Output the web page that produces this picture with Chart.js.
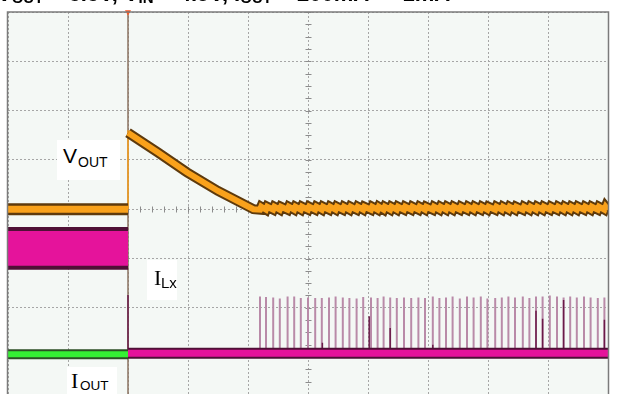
<!DOCTYPE html>
<html lang="en">
<head>
<meta charset="UTF-8">
<title>VOUT / ILx / IOUT load step</title>
<script src="https://cdn.jsdelivr.net/npm/chart.js@4.4.0/dist/chart.umd.min.js"></script>
<style>
  html, body { margin: 0; padding: 0; width: 622px; height: 394px; overflow: hidden; background: #fff; }
  #wrap { position: absolute; left: 0; top: 0; width: 622px; height: 420px; }
  .title { position: absolute; left: -3px; top: -17px; font: bold 22px Arial, "Liberation Sans", sans-serif; line-height: 22px; white-space: nowrap; color: #000; }
  .title span { font-size: 15px; position: relative; top: 2px; }
  .box { position: absolute; background: #fff; }
  .t { position: absolute; white-space: nowrap; color: #000; font-family: Arial, "Liberation Sans", sans-serif; }
  .serif { font-family: "Times New Roman", "Liberation Serif", serif; }
</style>
</head>
<body>
<div id="wrap">
  <canvas id="scope" width="622" height="420"></canvas>
</div>

<div class="title">V<span>OUT</span> = 3.3V, V<span>IN</span> = 4.5V, I<span>OUT</span> = 200mA → 1mA</div>

<div class="box" style="left:57px; top:140px; width:63px; height:40px;"></div>
<div class="t" style="left:63px; top:145.2px; font-size:21px; line-height:21px;">V</div>
<div class="t" style="left:78px; top:155.1px; font-size:14px; line-height:14px;">OUT</div>

<div class="box" style="left:147px; top:260px; width:30px; height:40px;"></div>
<div class="t serif" style="left:154px; top:266.6px; font-size:22px; line-height:22px;">I</div>
<div class="t" style="left:161px; top:275.3px; font-size:15px; line-height:15px;">Lx</div>

<div class="box" style="left:67px; top:367px; width:50px; height:30px;"></div>
<div class="t serif" style="left:71px; top:369.6px; font-size:22px; line-height:22px;">I</div>
<div class="t" style="left:80px; top:378.6px; font-size:13.5px; line-height:13.5px;">OUT</div>

<script>
  // scope screen: 10 horizontal divisions (0..10), 8 vertical divisions (-4..4), trigger at div 2

  // V_OUT (orange)
  const voutPreX = [0, 2];
  const voutPreY = [0.0, 0.0];
  const voutSlopeX = [2.0, 2.5, 2.98, 3.5, 4.09];
  const voutSlopeY = [1.55, 1.15, 0.75, 0.37, 0.0];
  const voutRippleLo = -0.01;
  const voutRippleHi = 0.05;

  // I_Lx (magenta)
  const ilxPreX = [0, 2];
  const ilxPreTop = -0.40;
  const ilxPreBottom = -1.19;
  const ilxBaseX = [2, 10];
  const ilxBaseY = -2.92;
  const spikeBase = -2.85;
  const spikeX = [4.20, 4.30, 4.42, 4.53, 4.66, 4.77, 4.88, 5.00, 5.12, 5.23, 5.35, 5.46, 5.58, 5.69, 5.81, 5.92, 6.05,
    6.16, 6.26, 6.37, 6.48, 6.60, 6.72, 6.84, 6.95, 7.08, 7.19, 7.30, 7.41, 7.53, 7.65, 7.76, 7.88, 7.99,
    8.12, 8.23, 8.34, 8.45, 8.58, 8.69, 8.80, 8.91, 9.03, 9.15, 9.26, 9.37, 9.48, 9.60, 9.71, 9.83, 9.94];
  const spikeTop = [-1.77, -1.78, -1.79, -1.81, -1.77, -1.77, -1.80, -1.79, -1.80, -1.80, -1.79, -1.77, -1.79, -1.80, -1.81, -1.78, -1.79,
    -1.80, -1.77, -1.79, -1.80, -1.79, -1.80, -1.79, -1.80, -1.77, -1.80, -1.79, -1.77, -1.81, -1.77, -1.79, -1.77, -1.81,
    -1.80, -1.79, -1.77, -1.79, -1.77, -1.80, -1.77, -1.77, -1.75, -1.77, -1.79, -1.77, -1.79, -1.77, -1.79, -1.80, -1.79];
  const darkSpikeX = [2.0, 5.24, 6.02, 6.37, 7.08, 8.80, 8.91, 9.26, 9.94];
  const darkSpikeTop = [-1.74, -2.71, -2.17, -2.41, -2.75, -2.06, -2.22, -1.84, -2.24];

  // I_OUT (green)
  const ioutPreX = [0, 2];
  const ioutY = -2.94;

  // trigger position and channel markers
  const triggerX = 2;
  const markerX = [10.12, 10.10];
  const markerY = [-3.0, -3.57];

  const pts = (xs, ys) => xs.map((x, i) => ({ x, y: Array.isArray(ys) ? ys[i] : ys }));

  // V_OUT ripple follows the I_Lx pulses: step up at each pulse, then decays
  const voutPost = [];
  spikeX.forEach(sx => {
    voutPost.push({ x: sx, y: voutRippleLo }, { x: sx + 0.02, y: voutRippleHi });
  });
  voutPost.push({ x: 10, y: voutRippleLo });
  const voutMain = pts(voutSlopeX, voutSlopeY).concat(voutPost);

  const spikeSegs = (xs, tops) => {
    const out = [];
    xs.forEach((x, i) => out.push({ x, y: spikeBase }, { x, y: tops[i] }, { x, y: null }));
    return out;
  };

  function line(data, color, width, order, extra) {
    return Object.assign({
      type: 'line', data, borderColor: color, borderWidth: width,
      pointRadius: 0, fill: false, tension: 0, order, spanGaps: false
    }, extra || {});
  }

  const ORANGE = '#f9a11b', ORANGE_DK = '#5e3a0c';
  const MAGENTA = '#e5139b', MAGENTA_DK = '#4f1036';
  const GREEN = '#35f034', GREEN_DK = '#2d4f25';

  const datasets = [
    line([{ x: triggerX, y: -4 }, { x: triggerX, y: 4 }], '#8b7360', 1.5, 95),
    line(spikeSegs(spikeX, spikeTop), '#b98aa8', 2, 90),
    line(spikeSegs(darkSpikeX, darkSpikeTop), '#6a1a48', 1.5, 85),
    // magenta band before trigger
    line(pts(ilxPreX, ilxPreTop), MAGENTA_DK, 4, 80, { fill: '+1', backgroundColor: MAGENTA }),
    line(pts(ilxPreX, ilxPreBottom), MAGENTA_DK, 4, 79),
    line(pts(ilxBaseX, ilxBaseY), MAGENTA_DK, 11, 70),
    line(pts(ilxBaseX, ilxBaseY), MAGENTA, 7, 69),
    line(pts(ioutPreX, ioutY), GREEN_DK, 10, 60),
    line(pts(ioutPreX, ioutY), GREEN, 6, 59),
    line([{ x: triggerX, y: 0 }, { x: triggerX, y: 1.6 }], ORANGE, 1.5, 52),
    line(pts(voutPreX, voutPreY), ORANGE_DK, 12, 50),
    line(pts(voutPreX, voutPreY), ORANGE, 7, 49),
    line(voutMain, ORANGE_DK, 10, 48),
    line(voutMain, ORANGE, 6, 47),
    line([{ x: triggerX, y: 4 }], '#ff531c', 0, 10, { showLine: false, pointRadius: 3.5, pointStyle: 'triangle', rotation: 180, pointBackgroundColor: '#ff531c', pointBorderWidth: 0, clip: false }),
    line([{ x: markerX[0], y: markerY[0] }], MAGENTA, 0, 10, { showLine: false, pointRadius: 3.5, pointStyle: 'triangle', rotation: -90, pointBackgroundColor: MAGENTA, pointBorderWidth: 0, clip: false }),
    line([{ x: markerX[1], y: markerY[1] }], GREEN, 0, 10, { showLine: false, pointRadius: 3, pointStyle: 'triangle', rotation: -90, pointBackgroundColor: GREEN, pointBorderWidth: 0, clip: false })
  ];

  const screen = {
    id: 'screen',
    beforeDraw(chart) {
      const { ctx, chartArea: a } = chart;
      ctx.save();
      ctx.fillStyle = '#ffffff';
      ctx.fillRect(0, 0, chart.width, chart.height);
      ctx.fillStyle = '#f4f8f5';
      ctx.fillRect(a.left, a.top, a.right - a.left, a.bottom - a.top);
      ctx.restore();
    },
    beforeDatasetsDraw(chart) {
      const { ctx, scales: { x, y } } = chart;
      const cx = Math.round(x.getPixelForValue(5)) + 0.5;
      const cy = Math.round(y.getPixelForValue(0)) + 0.5;
      ctx.save();
      ctx.strokeStyle = '#8c8c8c';
      ctx.lineWidth = 1;
      ctx.beginPath();
      for (let v = -4; v <= 4; v += 0.25) {
        const py = Math.round(y.getPixelForValue(v)) + 0.5;
        ctx.moveTo(cx - 3, py); ctx.lineTo(cx + 3, py);
      }
      for (let v = 0; v <= 10.001; v += 0.2) {
        const px = Math.round(x.getPixelForValue(v)) + 0.5;
        ctx.moveTo(px, cy - 3); ctx.lineTo(px, cy + 3);
      }
      ctx.stroke();
      ctx.restore();
    },
    afterDatasetsDraw(chart) {
      const { ctx, chartArea: a } = chart;
      ctx.save();
      ctx.strokeStyle = '#7b7b7b';
      ctx.lineWidth = 1.5;
      ctx.strokeRect(a.left - 0.5, a.top, a.right - a.left + 1, a.bottom - a.top);
      ctx.restore();
    }
  };

  const gridOpts = { color: '#a6a6a6', lineWidth: 1, drawTicks: false };

  new Chart(document.getElementById('scope'), {
    type: 'line',
    data: { datasets },
    options: {
      responsive: false,
      animation: false,
      devicePixelRatio: 1,
      layout: { padding: { left: 8, right: 14, top: 12, bottom: 13.6 } },
      plugins: { legend: { display: false }, tooltip: { enabled: false } },
      scales: {
        x: { type: 'linear', min: 0, max: 10, ticks: { display: false, stepSize: 1 }, grid: gridOpts, border: { display: false, dash: [2, 2] } },
        y: { type: 'linear', min: -4, max: 4, ticks: { display: false, stepSize: 1 }, grid: gridOpts, border: { display: false, dash: [2, 2] } }
      }
    },
    plugins: [screen]
  });
</script>
</body>
</html>
